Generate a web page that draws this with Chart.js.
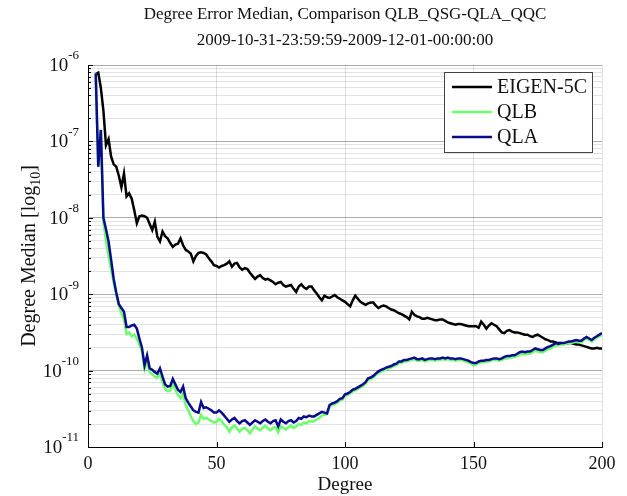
<!DOCTYPE html>
<html>
<head>
<meta charset="utf-8">
<script src="https://cdn.jsdelivr.net/npm/chart.js"></script>
<style>
  html, body { margin: 0; padding: 0; background: #fff; }
</style>
</head>
<body>
<canvas id="chart" width="627" height="496"></canvas>
<script>
// degrees 3..200, values are log10 of the median
const firstDegree = 3;
const lastDegree = 200;
const xTicks = [0, 50, 100, 150, 200];
const yTickExps = [-11, -10, -9, -8, -7, -6];

const eigenLog = [
  -6.12, -6.10, -6.30, -6.60, -7.05, -6.97, -7.20, -7.30, -7.33, -7.45,
  -7.60, -7.42, -7.72, -7.68, -7.75, -7.90, -8.07, -7.98, -7.97, -7.98,
  -8.00, -8.08, -8.16, -8.05, -8.25, -8.31, -8.18, -8.24, -8.27, -8.33,
  -8.38, -8.35, -8.34, -8.27, -8.36, -8.42, -8.44, -8.47, -8.57, -8.50,
  -8.46, -8.45, -8.46, -8.48, -8.53, -8.57, -8.62, -8.63, -8.65, -8.63,
  -8.62, -8.60, -8.57, -8.64, -8.60, -8.59, -8.65, -8.68, -8.66, -8.67,
  -8.72, -8.76, -8.80, -8.77, -8.75, -8.79, -8.81, -8.80, -8.82, -8.84,
  -8.87, -8.85, -8.84, -8.88, -8.90, -8.89, -8.88, -8.93, -8.97, -8.90,
  -8.87, -8.91, -8.93, -8.90, -8.90, -8.95, -8.99, -9.04, -9.08, -9.02,
  -9.04, -9.05, -9.03, -9.01, -9.04, -9.06, -9.08, -9.10, -9.13, -9.16,
  -9.08, -9.02, -9.06, -9.10, -9.12, -9.14, -9.12, -9.11, -9.11, -9.15,
  -9.18, -9.16, -9.15, -9.16, -9.18, -9.20, -9.21, -9.23, -9.25, -9.26,
  -9.28, -9.30, -9.33, -9.23, -9.27, -9.29, -9.30, -9.32, -9.32, -9.31,
  -9.32, -9.33, -9.34, -9.34, -9.33, -9.33, -9.35, -9.37, -9.38, -9.39,
  -9.40, -9.39, -9.39, -9.40, -9.41, -9.42, -9.42, -9.42, -9.42, -9.44,
  -9.36, -9.40, -9.45, -9.41, -9.38, -9.40, -9.42, -9.46, -9.50, -9.51,
  -9.48, -9.47, -9.49, -9.50, -9.50, -9.51, -9.52, -9.53, -9.53, -9.55,
  -9.56, -9.54, -9.53, -9.55, -9.57, -9.59, -9.60, -9.62, -9.62, -9.63,
  -9.64, -9.64, -9.65, -9.65, -9.64, -9.64, -9.65, -9.66, -9.66, -9.67,
  -9.68, -9.69, -9.70, -9.71, -9.71, -9.70, -9.71, -9.71
];

const qlbLog = [
  -6.11, -7.33, -6.85, -8.05, -8.30, -8.50, -8.68, -8.85, -9.00, -9.15,
  -9.25, -9.33, -9.52, -9.50, -9.55, -9.53, -9.58, -9.66, -9.75, -9.98,
  -9.88, -10.02, -10.05, -10.08, -10.09, -10.05, -10.15, -10.24, -10.27, -10.26,
  -10.18, -10.25, -10.32, -10.36, -10.30, -10.45, -10.52, -10.60, -10.66, -10.70,
  -10.68, -10.58, -10.63, -10.62, -10.64, -10.66, -10.68, -10.67, -10.63, -10.66,
  -10.71, -10.74, -10.80, -10.74, -10.72, -10.76, -10.80, -10.76, -10.75, -10.78,
  -10.82, -10.77, -10.73, -10.76, -10.78, -10.75, -10.72, -10.76, -10.78, -10.75,
  -10.74, -10.81, -10.73, -10.75, -10.77, -10.74, -10.72, -10.75, -10.73, -10.70,
  -10.71, -10.68, -10.69, -10.66, -10.67, -10.66, -10.64, -10.62, -10.59, -10.58,
  -10.57, -10.47, -10.45, -10.44, -10.42, -10.39, -10.38, -10.33, -10.32, -10.30,
  -10.27, -10.26, -10.24, -10.22, -10.20, -10.17, -10.12, -10.11, -10.09, -10.06,
  -10.03, -10.01, -10.00, -9.98, -9.97, -9.96, -9.94, -9.93, -9.90, -9.90,
  -9.88, -9.88, -9.87, -9.86, -9.85, -9.87, -9.87, -9.86, -9.88, -9.87,
  -9.86, -9.86, -9.87, -9.86, -9.86, -9.85, -9.86, -9.85, -9.86, -9.86,
  -9.87, -9.86, -9.86, -9.87, -9.88, -9.89, -9.91, -9.93, -9.92, -9.90,
  -9.89, -9.89, -9.88, -9.88, -9.87, -9.86, -9.86, -9.87, -9.86, -9.84,
  -9.84, -9.83, -9.83, -9.82, -9.81, -9.79, -9.78, -9.79, -9.78, -9.78,
  -9.76, -9.74, -9.75, -9.76, -9.76, -9.74, -9.72, -9.71, -9.69, -9.67,
  -9.67, -9.66, -9.66, -9.65, -9.64, -9.64, -9.63, -9.62, -9.63, -9.63,
  -9.60, -9.58, -9.60, -9.62, -9.59, -9.57, -9.55, -9.53
];

const qlaLog = [
  -6.11, -7.33, -6.85, -8.00, -8.15, -8.31, -8.55, -8.80, -8.98, -9.13,
  -9.18, -9.23, -9.43, -9.43, -9.41, -9.40, -9.45, -9.58, -9.70, -9.93,
  -9.80, -9.97, -9.99, -10.02, -10.04, -9.97, -10.08, -10.18, -10.21, -10.20,
  -10.11, -10.18, -10.25, -10.28, -10.21, -10.36, -10.42, -10.47, -10.52, -10.54,
  -10.55, -10.41, -10.49, -10.48, -10.50, -10.52, -10.55, -10.55, -10.52, -10.55,
  -10.59, -10.63, -10.67, -10.64, -10.62, -10.66, -10.69, -10.66, -10.65, -10.68,
  -10.71, -10.68, -10.65, -10.67, -10.69, -10.66, -10.64, -10.67, -10.69, -10.66,
  -10.65, -10.73, -10.64, -10.67, -10.69, -10.66, -10.65, -10.68, -10.66, -10.62,
  -10.63, -10.60, -10.61, -10.59, -10.60, -10.60, -10.58, -10.56, -10.54, -10.55,
  -10.56, -10.45, -10.43, -10.42, -10.40, -10.37, -10.36, -10.31, -10.30, -10.28,
  -10.25, -10.24, -10.22, -10.20, -10.18, -10.15, -10.10, -10.09, -10.07, -10.04,
  -10.01, -9.99, -9.98, -9.96, -9.95, -9.94, -9.92, -9.91, -9.88, -9.88,
  -9.86, -9.86, -9.85, -9.84, -9.83, -9.85, -9.85, -9.84, -9.86, -9.85,
  -9.84, -9.84, -9.85, -9.84, -9.84, -9.83, -9.84, -9.83, -9.84, -9.84,
  -9.85, -9.84, -9.84, -9.85, -9.86, -9.87, -9.89, -9.90, -9.90, -9.88,
  -9.87, -9.87, -9.86, -9.86, -9.85, -9.84, -9.84, -9.85, -9.84, -9.82,
  -9.81, -9.81, -9.80, -9.80, -9.78, -9.76, -9.75, -9.76, -9.75, -9.75,
  -9.73, -9.71, -9.72, -9.73, -9.73, -9.71, -9.69, -9.68, -9.66, -9.64,
  -9.65, -9.64, -9.64, -9.63, -9.62, -9.62, -9.61, -9.60, -9.61, -9.61,
  -9.58, -9.56, -9.58, -9.60, -9.57, -9.55, -9.53, -9.51
];

const serif = "'Liberation Serif', 'DejaVu Serif', serif";

function toPoints(logs) {
  return logs.map((v, i) => ({x: firstDegree + i, y: Math.pow(10, v)}));
}

function isDecade(v) {
  const l = Math.log10(v);
  return Math.abs(l - Math.round(l)) < 1e-6;
}

// inward ticks, 10^n labels, y title with subscript, boxed legend
const matlabDecor = {
  id: 'matlabDecor',
  afterDraw(chart) {
    const {ctx, chartArea, scales} = chart;
    const xs = scales.x, ys = scales.y;
    ctx.save();
    ctx.strokeStyle = '#000';
    ctx.lineWidth = 1;
    ctx.beginPath();
    ys.ticks.forEach(t => {
      const py = Math.round(ys.getPixelForValue(t.value)) + 0.5;
      const len = isDecade(t.value) ? 5 : 3;
      ctx.moveTo(chartArea.left, py);
      ctx.lineTo(chartArea.left + len, py);
    });
    xTicks.forEach(v => {
      const px = Math.round(xs.getPixelForValue(v)) + 0.5;
      ctx.moveTo(px, chartArea.bottom);
      ctx.lineTo(px, chartArea.bottom - 5);
    });
    ctx.stroke();

    // y tick labels 10^n
    ctx.fillStyle = '#111';
    ctx.textBaseline = 'middle';
    yTickExps.forEach(e => {
      const py = ys.getPixelForValue(Math.pow(10, e));
      const expText = '-' + Math.abs(e);
      ctx.font = '13px ' + serif;
      const ew = ctx.measureText(expText).width;
      const right = chartArea.left - 9;
      ctx.textAlign = 'left';
      ctx.fillText(expText, right - ew, py - 9);
      ctx.font = '19px ' + serif;
      ctx.textAlign = 'right';
      ctx.fillText('10', right - ew, py + 1);
    });

    // y title
    ctx.save();
    ctx.translate(28, (chartArea.top + chartArea.bottom) / 2);
    ctx.rotate(-Math.PI / 2);
    ctx.font = '20px ' + serif;
    const t1 = 'Degree Median [log', t3 = ']';
    const w1 = ctx.measureText(t1).width, w3 = ctx.measureText(t3).width;
    ctx.font = '14px ' + serif;
    const w2 = ctx.measureText('10').width;
    const sx = -(w1 + w2 + w3) / 2;
    ctx.textAlign = 'left';
    ctx.textBaseline = 'alphabetic';
    ctx.font = '20px ' + serif;
    ctx.fillText(t1, sx, 7);
    ctx.font = '14px ' + serif;
    ctx.fillText('10', sx + w1, 12);
    ctx.font = '20px ' + serif;
    ctx.fillText(t3, sx + w1 + w2, 7);
    ctx.restore();

    // legend box
    const bx = chartArea.right - 158, by = chartArea.top + 7, bw = 148, bh = 80;
    ctx.fillStyle = '#fff';
    ctx.fillRect(bx, by, bw, bh);
    ctx.strokeStyle = '#444';
    ctx.strokeRect(bx + 0.5, by + 0.5, bw, bh);
    const rows = ['EIGEN-5C', 'QLB', 'QLA'];
    ctx.font = '20px ' + serif;
    ctx.textAlign = 'left';
    ctx.textBaseline = 'middle';
    chart.data.datasets.forEach(ds => {
      const ly = by + 15 + rows.indexOf(ds.label) * 25;
      ctx.strokeStyle = ds.borderColor;
      ctx.lineWidth = 2.5;
      ctx.beginPath();
      ctx.moveTo(bx + 8, ly);
      ctx.lineTo(bx + 48, ly);
      ctx.stroke();
      ctx.fillStyle = '#111';
      ctx.fillText(ds.label, bx + 53, ly + 1);
    });
    ctx.restore();
  }
};

new Chart(document.getElementById('chart'), {
  type: 'line',
  data: {
    datasets: [
      {label: 'QLA', data: toPoints(qlaLog), borderColor: '#0a0a8c', borderWidth: 2.5, order: 0},
      {label: 'QLB', data: toPoints(qlbLog), borderColor: '#6cff6c', borderWidth: 2.5, order: 1},
      {label: 'EIGEN-5C', data: toPoints(eigenLog), borderColor: '#000000', borderWidth: 2.5, order: 2}
    ]
  },
  options: {
    responsive: false,
    animation: false,
    devicePixelRatio: 1,
    elements: {point: {radius: 0}, line: {tension: 0}},
    layout: {padding: {left: 0, right: 25, top: 0, bottom: 0}},
    plugins: {
      legend: {display: false},
      tooltip: {enabled: false},
      title: {
        display: true,
        fullSize: false,
        text: ['Degree Error Median, Comparison QLB_QSG-QLA_QQC', '2009-10-31-23:59:59-2009-12-01-00:00:00'],
        color: '#111',
        font: {family: serif, size: 17, weight: 'normal', lineHeight: 1.5},
        padding: {top: 2, bottom: 12}
      }
    },
    scales: {
      x: {
        type: 'linear',
        min: 0,
        max: lastDegree,
        afterBuildTicks: s => { s.ticks = xTicks.map(v => ({value: v})); },
        afterFit: s => { s.height = 49; },
        ticks: {color: '#111', font: {family: serif, size: 18}, padding: 6, maxRotation: 0},
        grid: {color: 'rgba(0,0,0,0.12)', drawTicks: false},
        border: {color: '#000', width: 1},
        title: {display: true, text: 'Degree', color: '#111', font: {family: serif, size: 19}, padding: {top: 0, bottom: 0}}
      },
      y: {
        type: 'logarithmic',
        min: 1e-11,
        max: 1e-6,
        afterBuildTicks: s => {
          const t = [];
          yTickExps.forEach(e => {
            if (e === -6) { t.push({value: 1e-6}); return; }
            for (let m = 1; m <= 9; m++) t.push({value: m * Math.pow(10, e)});
          });
          s.ticks = t;
        },
        afterFit: s => { s.width = 88; },
        ticks: {display: false},
        grid: {
          drawTicks: false,
          color: c => (c.tick && isDecade(c.tick.value)) ? 'rgba(0,0,0,0.32)' : 'rgba(0,0,0,0.11)'
        },
        border: {color: '#000', width: 1}
      }
    }
  },
  plugins: [matlabDecor]
});
</script>
</body>
</html>
